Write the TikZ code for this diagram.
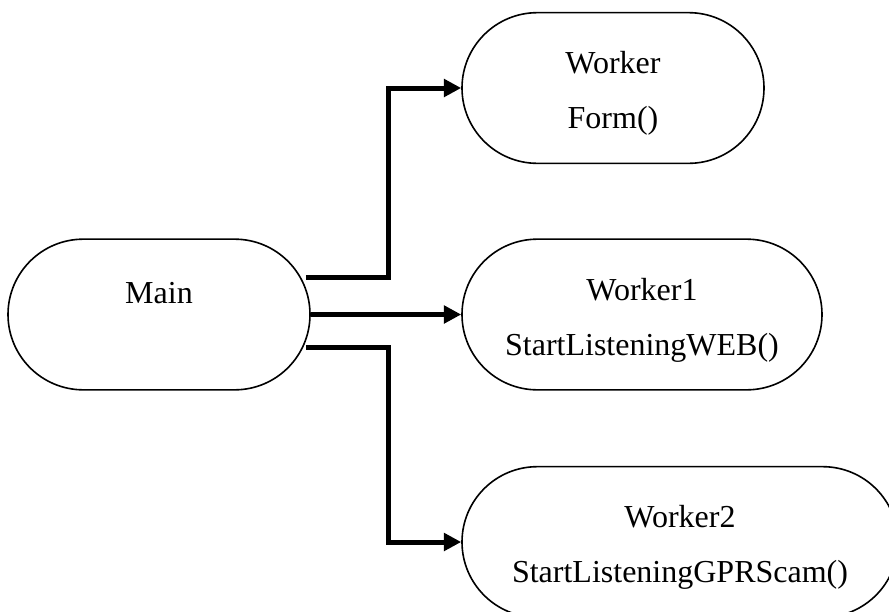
\documentclass[tikz,border=0pt]{standalone}
\usepackage{fontspec}
\setmainfont{Liberation Serif}
\usetikzlibrary{shapes.misc,arrows.meta}

\newcommand{\topgap}{\rule{0pt}{25pt}}
\tikzset{every picture/.style={line width=0.75pt}}
\tikzset{
  procbox/.style={draw, rounded rectangle, line width=1.2pt, inner sep=0pt,
    minimum height=113pt, align=center, font=\fontsize{24}{41}\selectfont},
  flow/.style={line width=3.75pt, -{Triangle[length=13pt,width=13pt]}},
}

\begin{document}
\begin{tikzpicture}[x=0.75pt,y=0.75pt,yscale=-1,xscale=1]
\useasboundingbox (0,0) rectangle (889,611);

%Rounded Rect [main]
\node[procbox, minimum width=226.5pt] (main) at (159,314.5) {\topgap Main\\\mbox{}};
%Rounded Rect [worker]
\node[procbox, minimum width=226.5pt] (worker) at (613,88) {\topgap Worker\\Form()};
%Rounded Rect [worker1]
\node[procbox, minimum width=270pt] (worker1) at (642,314.5) {\topgap Worker1\\StartListeningWEB()};
%Rounded Rect [worker2]
\node[procbox, minimum width=327pt] (worker2) at (680,542) {\topgap Worker2\\StartListeningGPRScam()};

%Straight Lines [main to worker]
\draw[flow] ([shift={(-5,-37.5)}]main.east) -- ++(83,0) |- (worker.west);
%Straight Lines [main to worker1]
\draw[flow] (main.east) -- (worker1.west);
%Straight Lines [main to worker2]
\draw[flow] ([shift={(-5,32.5)}]main.east) -- ++(83,0) |- (worker2.west);

\end{tikzpicture}
\end{document}
